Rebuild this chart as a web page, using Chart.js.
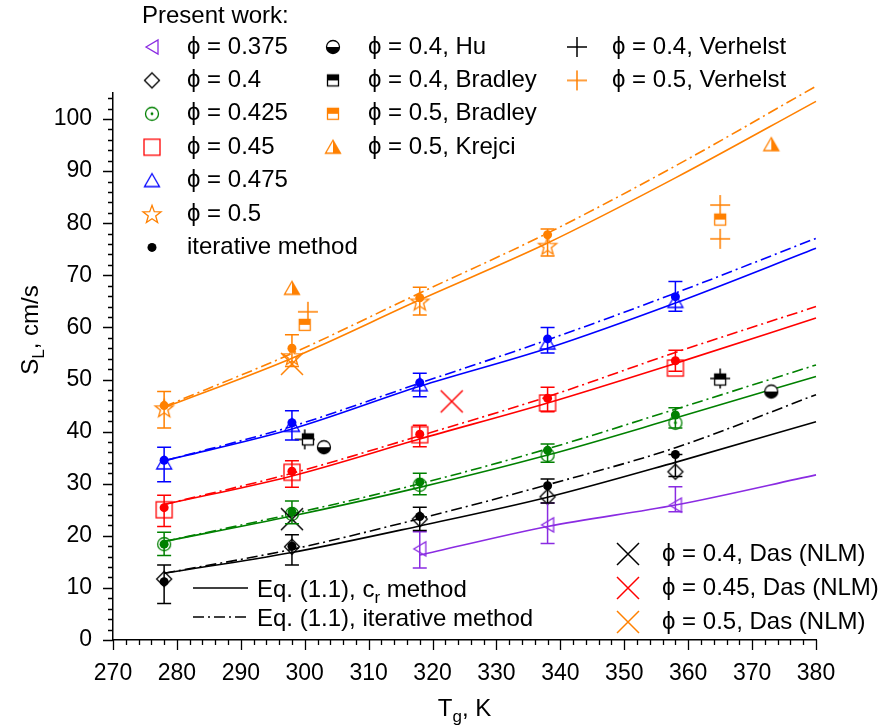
<!DOCTYPE html>
<html>
<head>
<meta charset="utf-8">
<script src="https://cdn.jsdelivr.net/npm/chart.js@4.4.1/dist/chart.umd.min.js"></script>
<style>
  html, body { margin: 0; padding: 0; background: #fff; }
</style>
</head>
<body>
<canvas id="chart" width="893" height="727"></canvas>
<script>
// S_L vs T_g
const FONT = '"Liberation Sans", Arial, sans-serif';
const BLACK = '#000000', PURPLE = '#8a2be2', GREEN = '#008000', RED = '#ff0000', BLUE = '#0000ff', ORANGE = '#ff8000';

// temperaturas
const T = [278, 298, 318, 338, 358];
const T05 = [278, 298, 318, 338];
const T0375 = [318, 338, 358];
const lineT = [278, 298, 318, 338, 358, 380];
const lineT0375 = [318, 338, 358, 380];

// Present work (marcadores abiertos)
const pw0375 = [17.5, 22.1, 25.9];
const pw04 = [11.7, 17.9, 23.2, 27.5, 32.3];
const pw0425 = [18.4, 24.2, 29.8, 35.5, 41.7];
const pw045 = [25.0, 32.2, 39.4, 45.5, 52.2];
const pw0475 = [34.0, 41.2, 49.0, 57.0, 65.0];
const pw05 = [44.5, 54.5, 65.0, 75.7];

// iterative method (círculos rellenos)
const it04 = [11.2, 18.0, 23.7, 29.6, 35.6];
const it0425 = [18.4, 24.6, 30.3, 36.4, 43.2];
const it045 = [25.4, 32.4, 39.5, 46.4, 53.6];
const it0475 = [34.5, 41.7, 49.4, 57.8, 65.9];
const it05 = [45.0, 56.0, 65.7, 77.8];

// barras de error (bajo / alto)
const errLo0375 = [13.8, 18.5, 24.6];
const errHi0375 = [20.8, 26.3, 29.4];
const errLo04 = [7.0, 14.4, 21.0, 26.3, 31.4];
const errHi04 = [14.4, 20.2, 25.5, 30.9, 35.6];
const errLo0425 = [16.2, 22.3, 27.9, 34.1, 40.7];
const errHi0425 = [20.7, 26.7, 32.0, 37.6, 44.6];
const errLo045 = [21.8, 29.3, 37.1, 43.8, 51.6];
const errHi045 = [27.8, 34.4, 41.2, 48.5, 55.6];
const errLo0475 = [30.4, 38.4, 46.7, 55.1, 63.1];
const errHi0475 = [37.0, 44.0, 51.2, 60.0, 68.8];
const errLo05 = [40.7, 52.5, 62.4, 73.7];
const errHi05 = [47.7, 58.6, 67.7, 78.9];

// curvas Eq. (1.1): c_r (continua) e iterativa (punto-raya)
const cr0375 = [16.3, 21.8, 25.9, 31.7];
const cr04 = [12.8, 16.8, 21.9, 27.4, 34.1, 41.9];
const itl04 = [12.8, 17.4, 23.3, 29.8, 36.9, 47.1];
const cr0425 = [18.9, 23.8, 29.3, 35.5, 42.6, 50.6];
const itl0425 = [18.9, 24.2, 30.0, 36.7, 44.3, 52.8];
const cr045 = [26.0, 31.5, 38.6, 45.5, 53.1, 61.8];
const itl045 = [26.0, 32.0, 39.2, 46.7, 55.2, 64.0];
const cr0475 = [34.4, 40.5, 48.7, 56.0, 64.7, 75.2];
const itl0475 = [34.4, 41.0, 49.3, 57.6, 66.6, 77.1];
const cr05 = [44.6, 54.1, 65.3, 76.2, 88.7, 103.4];
const itl05 = [44.8, 55.0, 66.6, 78.1, 91.0, 106.3];

// datos de literatura
const huT = [303, 373], hu04 = [37.0, 47.7];
const bradT04 = [300.5, 365], brad04 = [38.5, 50.0];
const bradT05 = [300, 365], brad05 = [60.5, 80.7];
const krejciT = [298, 373], krejci05 = [67.5, 95.1];
const verT04 = [300, 365], ver04 = [38.5, 50.2];
const verT05 = [300.5, 365, 365], ver05 = [63.0, 83.5, 77.0];
const dasT04 = [298], das04 = [23.2];
const dasT045 = [323], das045 = [45.8];
const dasT05 = [298], das05 = [53.0];

// ejes
const xMin = 270, xMax = 380, yMin = 0, yMax = 105;
const yTickValues = [0, 10, 20, 30, 40, 50, 60, 70, 80, 90, 100];

function pts(xs, ys) { return xs.map((x, i) => ({ x: x, y: ys[i] })); }

// ---- marcadores dibujados en canvas ----
function makeMarker(draw) {
    const c = document.createElement('canvas');
    c.width = 28; c.height = 28;
    const g = c.getContext('2d');
    g.translate(14, 14);
    g.lineWidth = 1.3;
    draw(g);
    return c;
}
function poly(g, p) {
    g.beginPath();
    g.moveTo(p[0][0], p[0][1]);
    for (let i = 1; i < p.length; i++) g.lineTo(p[i][0], p[i][1]);
    g.closePath();
}
const mTriLeft = makeMarker(g => { g.strokeStyle = PURPLE; poly(g, [[-6, 0], [6, -7], [6, 7]]); g.stroke(); });
const mDiamond = makeMarker(g => { g.strokeStyle = BLACK; poly(g, [[0, -7.5], [7.5, 0], [0, 7.5], [-7.5, 0]]); g.stroke(); });
const mCircleDot = makeMarker(g => {
    g.strokeStyle = GREEN; g.fillStyle = GREEN;
    g.beginPath(); g.arc(0, 0, 6.5, 0, Math.PI * 2); g.stroke();
    g.beginPath(); g.arc(0, 0, 1.4, 0, Math.PI * 2); g.fill();
});
const mSquare = makeMarker(g => { g.strokeStyle = RED; g.strokeRect(-8, -8, 16, 16); });
const mTriUp = makeMarker(g => { g.strokeStyle = BLUE; poly(g, [[0, -7], [7.5, 6], [-7.5, 6]]); g.stroke(); });
const mStar = makeMarker(g => {
    g.strokeStyle = ORANGE;
    const p = [];
    for (let i = 0; i < 10; i++) {
        const r = i % 2 === 0 ? 9.5 : 3.9;
        const a = -Math.PI / 2 + i * Math.PI / 5;
        p.push([r * Math.cos(a), r * Math.sin(a) + 0.8]);
    }
    poly(g, p); g.stroke();
});
const mHu = makeMarker(g => {
    g.fillStyle = '#fff'; g.beginPath(); g.arc(0, 0, 6.5, 0, Math.PI * 2); g.fill();
    g.fillStyle = BLACK; g.beginPath(); g.arc(0, 0, 6.5, 0, Math.PI); g.fill();
    g.strokeStyle = BLACK; g.beginPath(); g.arc(0, 0, 6.5, 0, Math.PI * 2); g.stroke();
});
function bradley(color) {
    return makeMarker(g => {
        g.fillStyle = '#fff'; g.fillRect(-5.5, -5.5, 11, 11);
        g.fillStyle = color; g.fillRect(-5.5, -5.5, 11, 5.5);
        g.strokeStyle = color; g.strokeRect(-5.5, -5.5, 11, 11);
    });
}
const mBrad04 = bradley(BLACK);
const mBrad05 = bradley(ORANGE);
const mKrejci = makeMarker(g => {
    g.fillStyle = '#fff'; poly(g, [[0, -7], [7.5, 6], [-7.5, 6]]); g.fill();
    g.fillStyle = ORANGE; poly(g, [[0, -7], [7.5, 6], [0, 6]]); g.fill();
    g.strokeStyle = ORANGE; poly(g, [[0, -7], [7.5, 6], [-7.5, 6]]); g.stroke();
});
function plus(color) {
    return makeMarker(g => {
        g.strokeStyle = color; g.lineWidth = 1.5; g.beginPath();
        g.moveTo(-10, 0); g.lineTo(10, 0); g.moveTo(0, -10); g.lineTo(0, 10); g.stroke();
    });
}
function cross(color) {
    return makeMarker(g => {
        g.strokeStyle = color; g.lineWidth = 1.5; g.beginPath();
        g.moveTo(-11, -11); g.lineTo(11, 11); g.moveTo(11, -11); g.lineTo(-11, 11); g.stroke();
    });
}
const mVer04 = plus(BLACK), mVer05 = plus(ORANGE);
const mDas04 = cross(BLACK), mDas045 = cross(RED), mDas05 = cross(ORANGE);

// ---- datasets ----
function lineDs(xs, ys, color, dashed) {
    return {
        data: pts(xs, ys), showLine: true, borderColor: color, borderWidth: 1.6,
        borderDash: dashed ? [11, 4, 2, 4] : [], pointRadius: 0, cubicInterpolationMode: 'monotone',
        clip: false, order: 5
    };
}
function markDs(xs, ys, img, order) {
    return { data: pts(xs, ys), pointStyle: img, pointRadius: 6, showLine: false, order: order };
}
function dotDs(xs, ys, color) {
    return { data: pts(xs, ys), pointStyle: 'circle', pointRadius: 4.5, backgroundColor: color, borderColor: color, borderWidth: 0, showLine: false, order: 1 };
}

const datasets = [
    lineDs(lineT0375, cr0375, PURPLE, false),
    lineDs(lineT, cr04, BLACK, false), lineDs(lineT, itl04, BLACK, true),
    lineDs(lineT, cr0425, GREEN, false), lineDs(lineT, itl0425, GREEN, true),
    lineDs(lineT, cr045, RED, false), lineDs(lineT, itl045, RED, true),
    lineDs(lineT, cr0475, BLUE, false), lineDs(lineT, itl0475, BLUE, true),
    lineDs(lineT, cr05, ORANGE, false), lineDs(lineT, itl05, ORANGE, true),

    markDs(T0375, pw0375, mTriLeft, 3),
    markDs(T, pw04, mDiamond, 3),
    markDs(T, pw0425, mCircleDot, 3),
    markDs(T, pw045, mSquare, 3),
    markDs(T, pw0475, mTriUp, 3),
    markDs(T05, pw05, mStar, 3),

    dotDs(T, it04, BLACK), dotDs(T, it0425, GREEN), dotDs(T, it045, RED),
    dotDs(T, it0475, BLUE), dotDs(T05, it05, ORANGE),

    markDs(huT, hu04, mHu, 0),
    markDs(bradT04, brad04, mBrad04, 0),
    markDs(bradT05, brad05, mBrad05, 0),
    markDs(krejciT, krejci05, mKrejci, 0),
    markDs(verT04, ver04, mVer04, 0),
    markDs(verT05, ver05, mVer05, 0),
    markDs(dasT04, das04, mDas04, 0),
    markDs(dasT045, das045, mDas045, 0),
    markDs(dasT05, das05, mDas05, 0)
];

const errorSets = [
    { xs: T0375, lo: errLo0375, hi: errHi0375, color: PURPLE },
    { xs: T, lo: errLo04, hi: errHi04, color: BLACK },
    { xs: T, lo: errLo0425, hi: errHi0425, color: GREEN },
    { xs: T, lo: errLo045, hi: errHi045, color: RED },
    { xs: T, lo: errLo0475, hi: errHi0475, color: BLUE },
    { xs: T05, lo: errLo05, hi: errHi05, color: ORANGE }
];

// barras de error
const errorBarPlugin = {
    id: 'errorBars',
    afterDatasetsDraw(chart) {
        const ctx = chart.ctx, sx = chart.scales.x, sy = chart.scales.y;
        ctx.save();
        ctx.lineWidth = 1.5;
        errorSets.forEach(s => {
            ctx.strokeStyle = s.color;
            s.xs.forEach((t, i) => {
                const x = sx.getPixelForValue(t);
                const y1 = sy.getPixelForValue(s.lo[i]);
                const y2 = sy.getPixelForValue(s.hi[i]);
                ctx.beginPath();
                ctx.moveTo(x, y1); ctx.lineTo(x, y2);
                ctx.moveTo(x - 7, y1); ctx.lineTo(x + 7, y1);
                ctx.moveTo(x - 7, y2); ctx.lineTo(x + 7, y2);
                ctx.stroke();
            });
        });
        ctx.restore();
    }
};

// marcas de ejes (mayores y menores, hacia afuera)
const tickPlugin = {
    id: 'tickMarks',
    afterDraw(chart) {
        const ctx = chart.ctx, sx = chart.scales.x, sy = chart.scales.y, a = chart.chartArea;
        ctx.save();
        ctx.strokeStyle = '#000';
        ctx.lineWidth = 1.3;
        ctx.beginPath();
        for (let v = xMin; v <= xMax; v += 2) {
            const x = Math.round(sx.getPixelForValue(v)) + 0.5;
            const len = v % 10 === 0 ? 10 : 5;
            ctx.moveTo(x, a.bottom); ctx.lineTo(x, a.bottom + len);
        }
        for (let v = yMin; v <= yMax; v += 2) {
            const y = Math.round(sy.getPixelForValue(v)) + 0.5;
            const len = v % 10 === 0 ? 10 : 5;
            ctx.moveTo(a.left, y); ctx.lineTo(a.left - len, y);
        }
        ctx.stroke();
        ctx.restore();
    }
};

// leyendas y títulos con subíndices
const presentLegend = [
    { img: mTriLeft, text: 'ϕ = 0.375' },
    { img: mDiamond, text: 'ϕ = 0.4' },
    { img: mCircleDot, text: 'ϕ = 0.425' },
    { img: mSquare, text: 'ϕ = 0.45' },
    { img: mTriUp, text: 'ϕ = 0.475' },
    { img: mStar, text: 'ϕ = 0.5' },
    { img: null, text: 'iterative method' }
];
const litLegend = [
    { img: mHu, text: 'ϕ = 0.4, Hu' },
    { img: mBrad04, text: 'ϕ = 0.4, Bradley' },
    { img: mBrad05, text: 'ϕ = 0.5, Bradley' },
    { img: mKrejci, text: 'ϕ = 0.5, Krejci' }
];
const verLegend = [
    { img: mVer04, text: 'ϕ = 0.4, Verhelst' },
    { img: mVer05, text: 'ϕ = 0.5, Verhelst' }
];
const dasLegend = [
    { img: mDas04, text: 'ϕ = 0.4, Das (NLM)' },
    { img: mDas045, text: 'ϕ = 0.45, Das (NLM)' },
    { img: mDas05, text: 'ϕ = 0.5, Das (NLM)' }
];

function drawSub(ctx, parts, x, y) {
    // parts: [[texto, esSubindice]]
    let cx = x;
    parts.forEach(p => {
        ctx.font = (p[1] ? '17px ' : '24px ') + FONT;
        ctx.fillText(p[0], cx, p[1] ? y + 6 : y);
        cx += ctx.measureText(p[0]).width;
    });
    return cx - x;
}
function widthSub(ctx, parts) {
    let w = 0;
    parts.forEach(p => { ctx.font = (p[1] ? '17px ' : '24px ') + FONT; w += ctx.measureText(p[0]).width; });
    return w;
}

const legendPlugin = {
    id: 'customLegend',
    afterDraw(chart) {
        const ctx = chart.ctx;
        ctx.save();
        ctx.fillStyle = '#000';
        ctx.textBaseline = 'middle';
        ctx.font = '24px ' + FONT;
        ctx.fillText('Present work:', 142, 16);

        function column(list, mx, tx, y0, dy) {
            list.forEach((r, i) => {
                const y = y0 + i * dy;
                if (r.img) {
                    ctx.drawImage(r.img, mx - r.img.width / 2, y - r.img.height / 2);
                } else {
                    ctx.beginPath(); ctx.arc(mx, y, 4.5, 0, Math.PI * 2); ctx.fillStyle = BLACK; ctx.fill();
                }
                ctx.fillStyle = '#000';
                ctx.font = '24px ' + FONT;
                ctx.fillText(r.text, tx, y);
            });
        }
        column(presentLegend, 152, 187, 47, 33.4);
        column(litLegend, 333, 368, 47, 33.4);
        column(verLegend, 577, 612, 47, 33.4);
        column(dasLegend, 628, 662, 554, 34);

        // líneas Eq. (1.1)
        ctx.strokeStyle = BLACK;
        ctx.lineWidth = 1.6;
        ctx.beginPath(); ctx.moveTo(193, 588); ctx.lineTo(248, 588); ctx.stroke();
        ctx.setLineDash([11, 4, 2, 4]);
        ctx.beginPath(); ctx.moveTo(193, 617); ctx.lineTo(248, 617); ctx.stroke();
        ctx.setLineDash([]);
        ctx.textBaseline = 'alphabetic';
        drawSub(ctx, [['Eq. (1.1), c', false], ['r', true], [' method', false]], 257, 597);
        ctx.font = '24px ' + FONT;
        ctx.fillText('Eq. (1.1), iterative method', 257, 626);

        // títulos de ejes
        const a = chart.chartArea;
        const xParts = [['T', false], ['g', true], [', K', false]];
        drawSub(ctx, xParts, (a.left + a.right) / 2 - widthSub(ctx, xParts) / 2, 716);
        const yParts = [['S', false], ['L', true], [', cm/s', false]];
        ctx.translate(38, 330);
        ctx.rotate(-Math.PI / 2);
        drawSub(ctx, yParts, -widthSub(ctx, yParts) / 2, 0);
        ctx.restore();
    }
};

new Chart(document.getElementById('chart'), {
    type: 'scatter',
    data: { datasets: datasets },
    options: {
        responsive: false,
        animation: false,
        layout: { padding: { left: 0, top: 93, right: 77, bottom: 0 } },
        plugins: { legend: { display: false }, tooltip: { enabled: false } },
        scales: {
            x: {
                type: 'linear', min: xMin, max: xMax,
                afterFit: s => { s.height = 87; },
                grid: { display: false, drawTicks: false },
                border: { display: true, color: '#000', width: 1.5 },
                ticks: { stepSize: 10, color: '#000', font: { family: FONT, size: 23 }, padding: 20, maxRotation: 0 }
            },
            y: {
                type: 'linear', min: yMin, max: yMax,
                afterFit: s => { s.width = 113; },
                afterBuildTicks: s => { s.ticks = yTickValues.map(v => ({ value: v })); },
                grid: { display: false, drawTicks: false },
                border: { display: true, color: '#000', width: 1.5 },
                ticks: { color: '#000', font: { family: FONT, size: 23 }, padding: 21 }
            }
        }
    },
    plugins: [errorBarPlugin, tickPlugin, legendPlugin]
});
</script>
</body>
</html>
